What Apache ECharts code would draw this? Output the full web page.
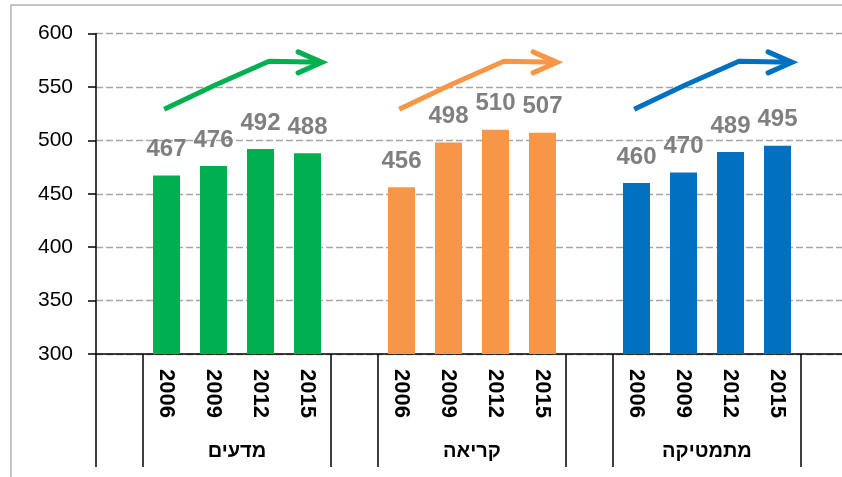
<!DOCTYPE html>
<html>
<head>
<meta charset="utf-8">
<script src="https://cdn.jsdelivr.net/npm/echarts@6/dist/echarts.min.js"></script>
<style>
  html, body { margin: 0; padding: 0; background: #fff; }
  #chart { width: 842px; height: 477px; }
</style>
</head>
<body>
<div id="chart"></div>
<script>
// Dati
const years = ["2006", "2009", "2012", "2015"];
const subjects = ["מדעים", "קריאה", "מתמטיקה"];
const scienceScores = [467, 476, 492, 488];
const readingScores = [456, 498, 510, 507];
const mathScores = [460, 470, 489, 495];
const subjectColors = ["#00b050", "#f79646", "#0070c0"];

const FONT = "'Liberation Sans', Arial, sans-serif";
const groupSize = years.length + 1;

// Categorie: uno spazio vuoto prima di ogni gruppo e uno alla fine
const categories = [];
subjects.forEach(() => {
  categories.push("");
  years.forEach(y => categories.push(y));
});
categories.push("");

// Indici dei bordi (linee verticali sotto l'asse)
const boundaryIdx = [];
subjects.forEach((_, g) => boundaryIdx.push(g * groupSize, g * groupSize + 1));
boundaryIdx.push(subjects.length * groupSize);

// Centro di ogni gruppo sull'asse numerico 0..16
const groupCenters = {};
subjects.forEach((s, g) => { groupCenters[g * groupSize + 1 + years.length / 2] = s; });

function createSeries(scores, g) {
  const data = categories.map(() => "-");
  scores.forEach((v, i) => { data[g * groupSize + 1 + i] = v; });
  return {
    type: "bar",
    data,
    barWidth: 27,
    barGap: "-100%",
    itemStyle: { color: subjectColors[g] },
    label: {
      show: true,
      position: "top",
      distance: 14,
      color: "#7f7f7f",
      fontFamily: FONT,
      fontWeight: "bold",
      fontSize: 24
    }
  };
}

const chart = echarts.init(document.getElementById("chart"));
chart.setOption({
  animation: false,
  grid: { left: 96, right: -6, top: 33.5, bottom: 123, outerBoundsMode: "none", containLabel: false },
  xAxis: [
    {
      type: "category",
      position: "bottom",
      data: categories,
      axisLine: { lineStyle: { color: "#000", width: 1.5 } },
      axisTick: {
        show: true,
        length: 113,
        interval: idx => boundaryIdx.includes(idx),
        lineStyle: { color: "#000", width: 1.5 }
      },
      axisLabel: {
        interval: 0,
        rotate: -90,
        margin: 15,
        color: "#000",
        fontFamily: FONT,
        fontWeight: "bold",
        fontSize: 22
      }
    },
    {
      type: "value",
      position: "bottom",
      min: 0,
      max: categories.length,
      interval: 1,
      axisLine: { show: false },
      axisTick: { show: false },
      splitLine: { show: false },
      axisLabel: {
        margin: 87,
        color: "#000",
        fontFamily: FONT,
        fontWeight: "bold",
        fontSize: 20,
        formatter: v => groupCenters[v] || ""
      }
    }
  ],
  yAxis: {
    type: "value",
    min: 300,
    max: 600,
    interval: 50,
    axisLine: { show: true, lineStyle: { color: "#000", width: 1.5 } },
    axisTick: { show: true, length: 8, lineStyle: { color: "#000", width: 1.5 } },
    axisLabel: { margin: 23, color: "#000", fontFamily: FONT, fontSize: 21 },
    splitLine: { lineStyle: { color: "#a6a6a6", width: 1.3, type: [7, 3] } }
  },
  series: [
    createSeries(scienceScores, 0),
    createSeries(readingScores, 1),
    createSeries(mathScores, 2)
  ]
});

// Frecce decorative sopra ogni gruppo (in unità di categoria rispetto al 2006)
const arrowShape = [[-0.05, 529], [1.05, 552], [2.18, 574], [3.31, 573]];
const graphics = [{
  type: "rect",
  silent: true,
  z: -1,
  shape: { x: 11, y: 5, width: 900, height: 600 },
  style: { fill: "none", stroke: "#b3b3b3", lineWidth: 1.5 }
}];
subjects.forEach((_, g) => {
  const base = g * groupSize + 1 + 0.5;
  const pts = arrowShape.map(([dx, v]) => [
    chart.convertToPixel({ xAxisIndex: 1 }, base + dx),
    chart.convertToPixel({ yAxisIndex: 0 }, v)
  ]);
  const tip = pts[pts.length - 1];
  graphics.push({
    type: "polyline",
    silent: true,
    z: 10,
    shape: { points: pts },
    style: { stroke: subjectColors[g], lineWidth: 5, fill: null, lineJoin: "round" }
  });
  graphics.push({
    type: "polyline",
    silent: true,
    z: 10,
    shape: { points: [[tip[0] - 24, tip[1] - 10.5], tip, [tip[0] - 24, tip[1] + 10.5]] },
    style: { stroke: subjectColors[g], lineWidth: 5, fill: null, lineCap: "round", lineJoin: "miter" }
  });
});
chart.setOption({ graphic: graphics });
</script>
</body>
</html>
